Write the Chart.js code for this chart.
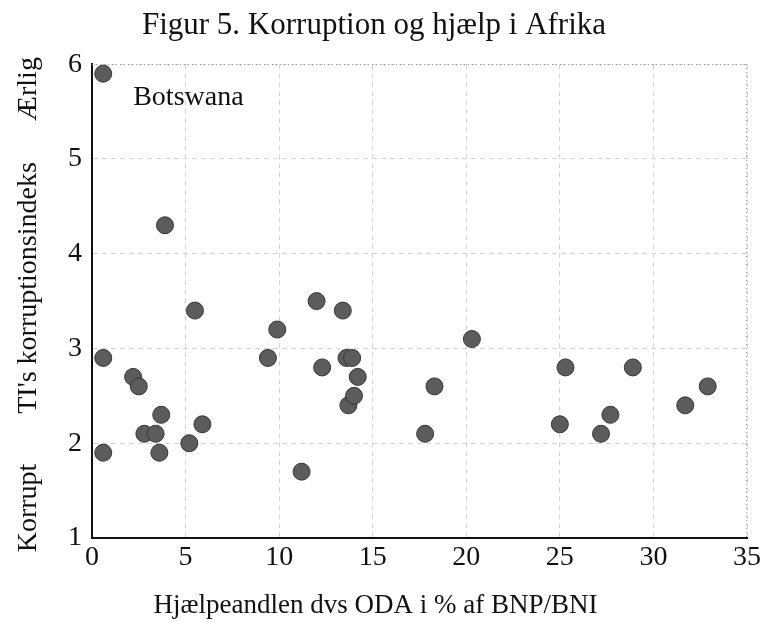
<!DOCTYPE html>
<html>
<head>
<meta charset="utf-8">
<script src="https://cdn.jsdelivr.net/npm/chart.js@4.4.1/dist/chart.umd.min.js"></script>
<style>
	html, body { margin: 0; padding: 0; background: #fff; }
	#wrap { width: 764px; height: 622px; }
</style>
</head>
<body>
<div id="wrap"><canvas id="scatterChart" width="764" height="622"></canvas></div>
<script>
// Data: aid (ODA % of GNI) vs TI corruption index
const aidPct = [
	0.6, 3.9, 5.5, 9.9, 12.0, 13.4, 9.4, 0.6, 2.2, 2.5, 3.7, 2.8, 3.4, 3.6, 0.6, 5.2, 5.9,
	11.2, 12.3, 13.6, 13.9, 14.2, 13.7, 14.0, 17.8, 18.3, 20.3, 25.3, 25.0, 27.2, 27.7, 28.9, 31.7, 32.9,
];
const tiIndex = [
	5.9, 4.3, 3.4, 3.2, 3.5, 3.4, 2.9, 2.9, 2.7, 2.6, 2.3, 2.1, 2.1, 1.9, 1.9, 2.0, 2.2,
	1.7, 2.8, 2.9, 2.9, 2.7, 2.4, 2.5, 2.1, 2.6, 3.1, 2.8, 2.2, 2.1, 2.3, 2.8, 2.4, 2.6,
];
const xTicks = [0, 5, 10, 15, 20, 25, 30, 35];
const yTicks = [1, 2, 3, 4, 5, 6];
const labelledPoint = { name: "Botswana", index: 0 };

const serif = "'Liberation Serif', 'DejaVu Serif', serif";

// Extra texts and the dotted top/right frame
const decorPlugin = {
	id: "decor",
	afterDraw(chart) {
		const ctx = chart.ctx;
		const area = chart.chartArea;
		const xs = chart.scales.x;
		const ys = chart.scales.y;

		ctx.save();
		// dotted frame top + right
		ctx.strokeStyle = "#8a8a8a";
		ctx.lineWidth = 1;
		ctx.setLineDash([1, 3]);
		ctx.beginPath();
		ctx.moveTo(area.left, area.top + 0.5);
		ctx.lineTo(area.right, area.top + 0.5);
		ctx.moveTo(area.right - 0.5, area.top);
		ctx.lineTo(area.right - 0.5, area.bottom);
		ctx.stroke();
		ctx.setLineDash([]);

		ctx.fillStyle = "#111";
		ctx.textBaseline = "middle";

		// point label
		ctx.font = "28px " + serif;
		ctx.textAlign = "left";
		const lx = xs.getPixelForValue(aidPct[labelledPoint.index] + 1.6);
		const ly = ys.getPixelForValue(tiIndex[labelledPoint.index] - 0.25);
		ctx.fillText(labelledPoint.name, lx, ly);

		// x axis title
		ctx.font = "27px " + serif;
		ctx.textAlign = "center";
		ctx.fillText("Hjælpeandlen dvs ODA i % af BNP/BNI", (area.left + area.right) / 2 - 44, chart.height - 16);

		// y axis title in three parts
		ctx.font = "28px " + serif;
		ctx.translate(29, 0);
		ctx.rotate(-Math.PI / 2);
		ctx.fillText("Korrupt", -508, 0);
		ctx.fillText("TI's korruptionsindeks", -288, 0);
		ctx.fillText("Ærlig", -89, 0);
		ctx.restore();
	},
};

function initScatter() {
	const ctx = document.getElementById("scatterChart");
	const points = aidPct.map((x, i) => ({ x: x, y: tiIndex[i] }));

	new Chart(ctx.getContext("2d"), {
		type: "scatter",
		data: {
			datasets: [
				{
					data: points,
					backgroundColor: "#5c5c5c",
					borderColor: "#363636",
					borderWidth: 1,
					pointRadius: 8.5,
					pointHoverRadius: 8.5,
				},
			],
		},
		options: {
			responsive: false,
			animation: false,
			events: [],
			layout: {
				padding: { top: 0, bottom: 0, left: 0, right: 16 },
			},
			plugins: {
				legend: { display: false },
				tooltip: { enabled: false },
				title: {
					display: true,
					text: "Figur 5. Korruption og hjælp i Afrika",
					color: "#111",
					font: { family: serif, size: 31, weight: "normal" },
					padding: { top: 7, bottom: 20 },
				},
			},
			scales: {
				x: {
					type: "linear",
					min: xTicks[0],
					max: xTicks[xTicks.length - 1],
					afterBuildTicks: (scale) => {
						scale.ticks = xTicks.map((v) => ({ value: v }));
					},
					afterFit: (scale) => {
						scale.height = 84;
					},
					grid: {
						color: "#d4d4d4",
						lineWidth: 1,
						drawTicks: false,
					},
					border: { display: true, color: "#111", width: 2, dash: [5, 4] },
					ticks: {
						color: "#111",
						padding: 3,
						maxRotation: 0,
						font: { family: serif, size: 28 },
					},
				},
				y: {
					type: "linear",
					min: yTicks[0],
					max: yTicks[yTicks.length - 1],
					afterBuildTicks: (scale) => {
						scale.ticks = yTicks.map((v) => ({ value: v }));
					},
					afterFit: (scale) => {
						scale.width = 92;
					},
					grid: {
						color: "#d4d4d4",
						lineWidth: 1,
						drawTicks: false,
					},
					border: { display: true, color: "#111", width: 2, dash: [5, 4] },
					ticks: {
						color: "#111",
						padding: 10,
						font: { family: serif, size: 28 },
					},
				},
			},
		},
		plugins: [decorPlugin],
	});
}

document.addEventListener("DOMContentLoaded", function () {
	if (typeof Chart === "undefined") {
		console.error("Chart.js library not loaded");
		return;
	}
	initScatter();
});
</script>
</body>
</html>
